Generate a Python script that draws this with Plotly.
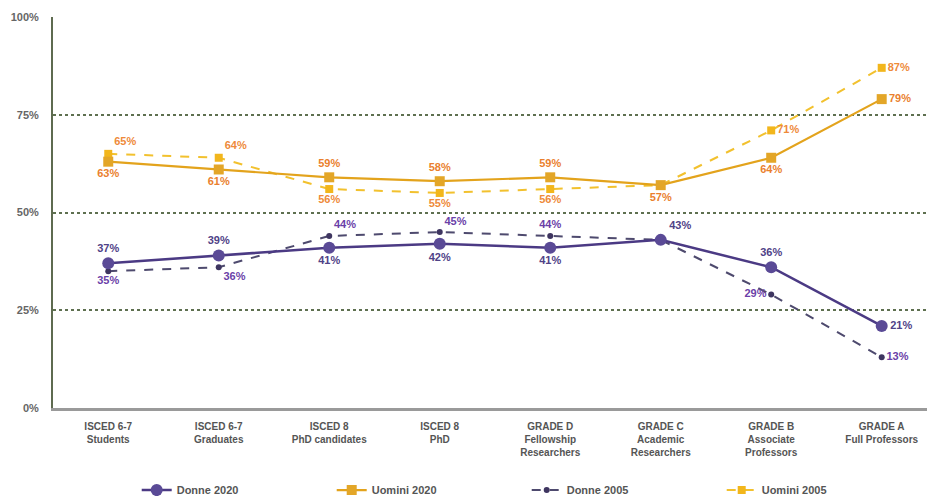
import plotly.graph_objects as go

categories = [
    "ISCED 6-7<br>Students", "ISCED 6-7<br>Graduates", "ISCED 8<br>PhD candidates",
    "ISCED 8<br>PhD", "GRADE D<br>Fellowship<br>Researchers", "GRADE C<br>Academic<br>Researchers",
    "GRADE B<br>Associate<br>Professors", "GRADE A<br>Full Professors",
]
donne_2020 = [37, 39, 41, 42, 41, 43, 36, 21]
uomini_2020 = [63, 61, 59, 58, 59, 57, 64, 79]
donne_2005 = [35, 36, 44, 45, 44, 43, 29, 13]
uomini_2005 = [65, 64, 56, 55, 56, 57, 71, 87]
y_ticks = [0, 25, 50, 75, 100]

x = list(range(len(categories)))
bold = dict(family="Liberation Sans, Arial, sans-serif", size=11, weight="bold")

def labels(vals, skip=()):
    return ["" if i in skip else f"{v}%" for i, v in enumerate(vals)]

fig = go.Figure()

fig.add_trace(go.Scatter(
    x=x, y=uomini_2005, name="Uomini 2005", mode="lines+markers+text", legendrank=4,
    line=dict(color="#F2C12E", width=2, dash="dash"),
    marker=dict(symbol="square", size=8, color="#F2B61C"),
    text=labels(uomini_2005, skip=(5,)),
    textposition=["top right", "top right", "bottom center", "bottom center",
                  "bottom center", "bottom center", "middle right", "middle right"],
    textfont=dict(color="#EE8A3A", **bold),
))
fig.add_trace(go.Scatter(
    x=x, y=uomini_2020, name="Uomini 2020", mode="lines+markers+text", legendrank=2,
    line=dict(color="#E3A31C", width=2.2),
    marker=dict(symbol="square", size=10, color="#E3A628"),
    text=labels(uomini_2020),
    textposition=["bottom center", "bottom center", "top center", "top center",
                  "top center", "bottom center", "bottom center", "middle right"],
    textfont=dict(color="#EA7F2E", **bold),
))
fig.add_trace(go.Scatter(
    x=x, y=donne_2005, name="Donne 2005", mode="lines+markers+text", legendrank=3,
    line=dict(color="#4E4A6E", width=2, dash="dash"),
    marker=dict(symbol="circle", size=6, color="#3E3560"),
    text=labels(donne_2005, skip=(5,)),
    textposition=["bottom center", "bottom right", "top right", "top right",
                  "top center", "top center", "middle left", "middle right"],
    textfont=dict(color="#6B3FA8", **bold),
))
fig.add_trace(go.Scatter(
    x=x, y=donne_2020, name="Donne 2020", mode="lines+markers+text", legendrank=1,
    line=dict(color="#4B3A84", width=2.5),
    marker=dict(symbol="circle", size=12, color="#5A4A96"),
    text=labels(donne_2020),
    textposition=["top center", "top center", "bottom center", "bottom center",
                  "bottom center", "top right", "top center", "middle right"],
    textfont=dict(color="#4F4287", **bold),
))

fig.update_layout(
    width=927, height=496,
    margin=dict(l=53, r=0, t=17, b=88, autoexpand=False),
    paper_bgcolor="white", plot_bgcolor="white",
    showlegend=True,
    legend=dict(
        orientation="h", x=0.542, xanchor="center", y=-0.21, yanchor="middle",
        entrywidth=150,
        font=dict(family="Liberation Sans, Arial, sans-serif", size=11, color="#555555", weight="bold"),
    ),
    xaxis=dict(
        range=[-0.5, 7.41], tickvals=x, ticktext=categories, automargin=False,
        showgrid=False, zeroline=False, showline=True, linecolor="#9a9a9a", linewidth=3,
        ticks="", ticklabelstandoff=7,
        tickfont=dict(family="Liberation Sans, Arial, sans-serif", size=10, color="#555555", weight="bold"),
    ),
    yaxis=dict(
        range=[0, 100], tickvals=y_ticks, ticktext=[f"{v}%" for v in y_ticks], automargin=False,
        showgrid=True, gridcolor="#5E7050", griddash="dot", gridwidth=1.5,
        zeroline=False, showline=True, linecolor="#5E6B50", linewidth=2,
        ticks="", ticklabelstandoff=10,
        tickfont=dict(family="Liberation Sans, Arial, sans-serif", size=11, color="#666666", weight="bold"),
    ),
)

fig.write_html("out.html")
